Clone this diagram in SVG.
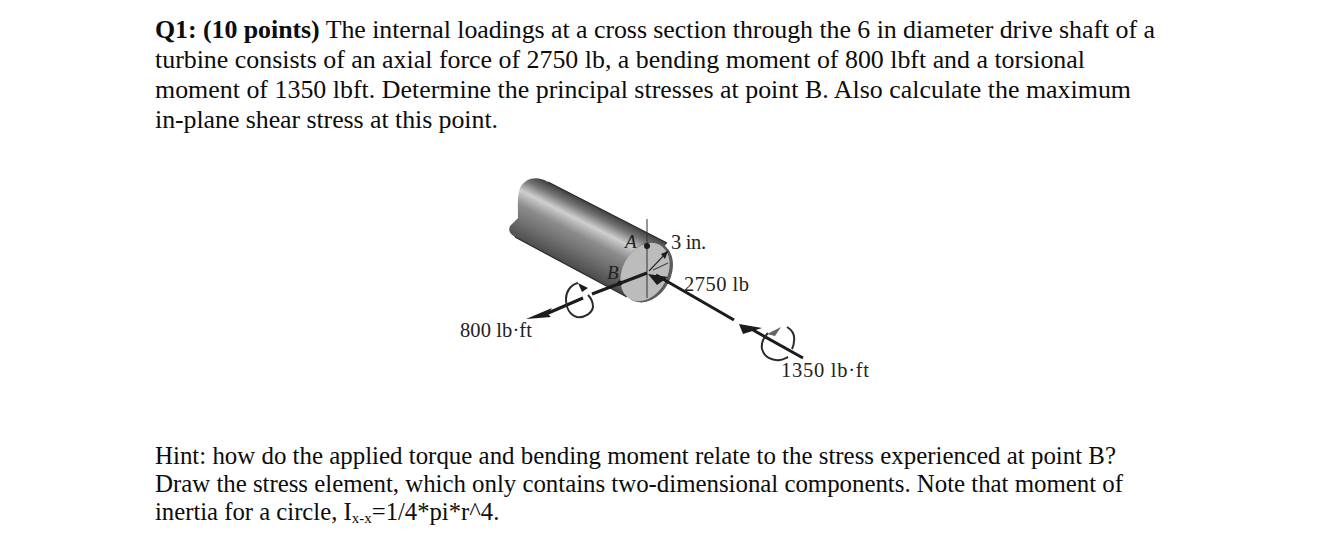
<svg xmlns="http://www.w3.org/2000/svg" width="1320" height="539" viewBox="0 0 1320 539">
<style>
.t{font-family:"Liberation Serif","Times New Roman",serif;font-size:25.9px;fill:#0c0c0c}
.u{font-family:"Liberation Serif","Times New Roman",serif;font-size:24.9px;fill:#0c0c0c}
.l{font-family:"Liberation Serif","Times New Roman",serif;font-size:20.5px;fill:#222}
.i{font-style:italic;font-size:19px}
.a{stroke:#1a1a1a;stroke-width:3;fill:none}
.c{stroke:#2a2a2a;stroke-width:2;fill:none}
.h{fill:#1a1a1a}
</style>
<defs>
<linearGradient id="shaft" gradientUnits="userSpaceOnUse" x1="560" y1="188" x2="530" y2="247">
<stop offset="0" stop-color="#3f3f3f"/><stop offset="0.14" stop-color="#777"/><stop offset="0.3" stop-color="#cfcfcf"/><stop offset="0.5" stop-color="#8c8c8c"/><stop offset="0.8" stop-color="#666"/><stop offset="1" stop-color="#4a4a4a"/>
</linearGradient>
<filter id="soft" x="-5%" y="-5%" width="110%" height="110%"><feGaussianBlur stdDeviation="0.45"/></filter>
</defs>
<rect width="1320" height="539" fill="#fff"/>
<g id="question">
<text class="t" x="155" y="38" textLength="1000"><tspan font-weight="bold">Q1: (10 points)</tspan> The internal loadings at a cross section through the 6 in diameter drive shaft of a</text>
<text class="t" x="155" y="68" textLength="930">turbine consists of an axial force of 2750 lb, a bending moment of 800 lbft and a torsional</text>
<text class="t" x="155" y="98" textLength="976">moment of 1350 lbft. Determine the principal stresses at point B. Also calculate the maximum</text>
<text class="t" x="155" y="128" textLength="343">in-plane shear stress at this point.</text>
</g>
<g id="hint">
<text class="u" x="155" y="464" textLength="961">Hint: how do the applied torque and bending moment relate to the stress experienced at point B?</text>
<text class="u" x="155" y="492" textLength="968">Draw the stress element, which only contains two-dimensional components. Note that moment of</text>
<text class="u" x="155" y="520" style="font-size:24.7px">inertia for a circle, I<tspan font-size="15" dy="3">x-x</tspan><tspan dy="-3">=1/4*pi*r^4.</tspan></text>
</g>
<g id="shaft-body" filter="url(#soft)">
<path d="M548 182C538 176 526 177 520 188C517 196 518 210 518 218L510 226C508 231 510 234 515 237L627 297L667 243Z" fill="url(#shaft)"/>
<path d="M548 182L667 243M515 237L627 297" stroke="#2a2a2a" stroke-width="1.3" fill="none"/>
<ellipse cx="647" cy="272" rx="32" ry="24" transform="rotate(-62 647 272)" fill="#5a5a5a"/>
<ellipse cx="645" cy="272" rx="31" ry="22.500" transform="rotate(-62 645 272)" fill="#bcbcbc"/>
<path d="M647 219V298" stroke="#333" stroke-width="1"/>
<path d="M649 271L668 251" stroke="#222" stroke-width="1.1"/>
<path d="M653 270L668 263" stroke="#444" stroke-width="1.1"/>
<path d="M668 251L661 254L665 259Z" class="h"/>
<circle cx="647" cy="246" r="3" class="h"/>
<circle cx="620" cy="283" r="2.500" class="h"/>
</g>
<g id="connectors" filter="url(#soft)">
<path class="a" d="M647 273L592 294M583 298L546 314"/>
<path d="M526 319L552 308L548 314L551 317Z" class="h"/>
<path class="c" d="M578 283C570 285 566 292 566 299C566 308 570 315 577 317C585 318 592 313 593 307C593 302 591 298 588 295"/>
<path d="M578 283L588 288L582 292Z" class="h"/>
<path class="a" d="M734 320L656 275"/>
<path d="M648 274L668 277L657 285Z" class="h"/>
<path class="a" d="M753 330L803 358"/>
<path d="M739 324L762 328L743 334Z" class="h"/>
<path class="c" d="M768 333C763 338 761 343 762 349C764 357 772 361 780 360C783 360 786 358 788 357M787 327C792 330 795 335 794 341C794 344 793 347 792 349"/>
<path d="M767 334L781 327L775 336Z" fill="#666"/>
</g>
<g id="labels">
<text class="l i" x="625" y="248">A</text>
<text class="l i" x="607" y="279">B</text>
<text class="l" x="671" y="249" textLength="35">3 in.</text>
<text class="l" x="684" y="291" textLength="65">2750 lb</text>
<text class="l" x="460" y="337" textLength="72">800 lb·ft</text>
<text class="l" x="781" y="377" textLength="88">1350 lb·ft</text>
</g>
</svg>
